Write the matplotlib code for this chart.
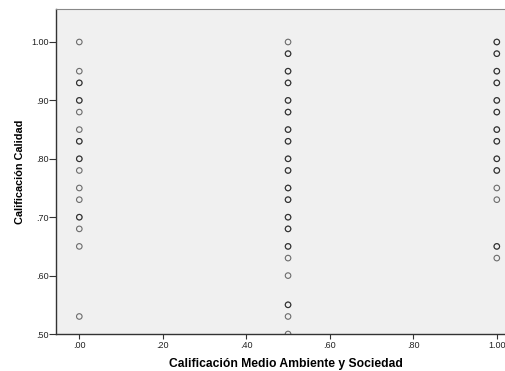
import matplotlib.pyplot as plt

# x = Calificación Medio Ambiente y Sociedad, y = Calificación Calidad
# each value listed once per observation; repeated values draw darker rings
x_00 = [0.0] * 20
y_00 = [1.00, .95, .93, .93, .90, .90, .88, .85, .83, .83,
        .80, .80, .78, .75, .73, .70, .70, .68, .65, .53]

y_50 = [1.00, .98, .98, .95, .95, .93, .93, .90, .90, .88, .88,
        .85, .85, .83, .83, .80, .80, .78, .78, .75, .75, .73, .73,
        .70, .70, .68, .68, .65, .65, .63, .60, .55, .55, .53, .50]
x_50 = [0.5] * len(y_50)

y_100 = [1.00, 1.00, .98, .98, .95, .95, .93, .93, .90, .90, .88, .88,
         .85, .85, .83, .83, .80, .80, .78, .78, .75, .73, .65, .65, .63]
x_100 = [1.0] * len(y_100)

xticks = [0, .2, .4, .6, .8, 1.0]
xticklabels = ['.00', '.20', '.40', '.60', '.80', '1.00']
yticks = [.5, .6, .7, .8, .9, 1.0]
yticklabels = ['.50', '.60', '.70', '.80', '.90', '1.00']

plt.rcParams['font.family'] = ['Liberation Sans', 'DejaVu Sans']

fig = plt.figure(figsize=(5.06, 3.71), dpi=100)
ax = fig.add_axes([56 / 506, 1 - 334 / 371, 460 / 506, 325 / 371])
ax.set_facecolor('#f0f0f0')

xs = x_00 + x_50 + x_100
ys = y_00 + y_50 + y_100
ax.scatter(xs, ys, s=16, facecolors='none', edgecolors='#000000',
           linewidths=0.8, alpha=0.55, clip_on=True, zorder=3)

ax.set_xlim(-0.0558, 1.046)
ax.set_ylim(0.5, 1.0565)
ax.set_xticks(xticks)
ax.set_xticklabels(xticklabels)
ax.set_yticks(yticks)
ax.set_yticklabels(yticklabels)
ax.tick_params(labelsize=6.5, width=0.8, color='#333333', labelcolor='#222222')
ax.tick_params(axis='x', length=3.5, pad=1.5)
ax.tick_params(axis='y', length=5, pad=0.5)

for side in ['left', 'bottom']:
    ax.spines[side].set_color('#333333')
    ax.spines[side].set_linewidth(1)
ax.spines['top'].set_color('#888888')
ax.spines['right'].set_visible(False)

ax.set_xlabel('Calificación Medio Ambiente y Sociedad', fontsize=8.7,
              fontweight='bold', labelpad=6)
ax.set_ylabel('Calificación Calidad', fontsize=7.8, fontweight='bold',
              labelpad=4.5)

fig.savefig('out.png', dpi=100)
